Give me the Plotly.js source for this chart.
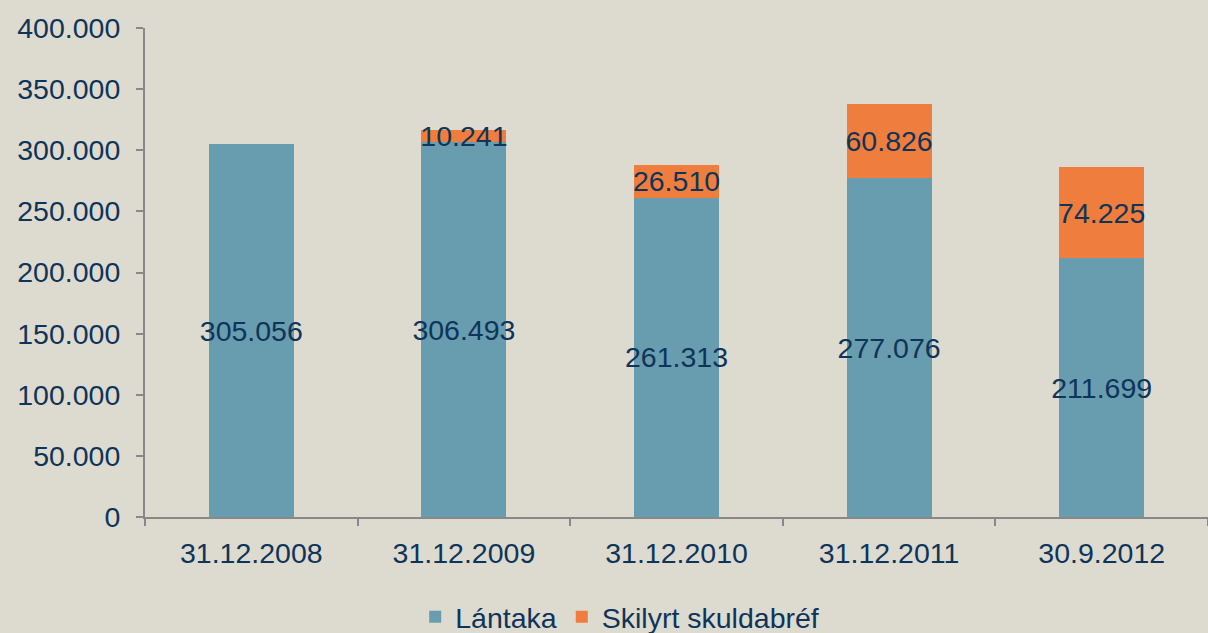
<!DOCTYPE html>
<html>
<head>
<meta charset="utf-8">
<script src="https://cdn.plot.ly/plotly-3.0.1.min.js"></script>
<style>html,body{margin:0;padding:0;background:#DDDAD0;}#chart{width:1208px;height:633px;}</style>
</head>
<body>
<div id="chart"></div>
<script>
const categories = ["31.12.2008", "31.12.2009", "31.12.2010", "31.12.2011", "30.9.2012"];
const lantaka = [305056, 306493, 261313, 277076, 211699];
const skilyrt = [null, 10241, 26510, 60826, 74225];
const seriesNames = ["Lántaka", "Skilyrt skuldabréf"];
const yTicks = [0, 50000, 100000, 150000, 200000, 250000, 300000, 350000, 400000];

const textColor = "#0E3559";
const fontFam = "Liberation Sans, Arial, sans-serif";
const fs = 28.5;

const common = {
  type: "bar",
  x: categories,
  width: 0.4,
  textposition: "inside",
  insidetextanchor: "middle",
  textangle: 0,
  constraintext: "none",
  texttemplate: "%{y:,d}",
  insidetextfont: {color: textColor, size: fs, family: fontFam},
  hoverinfo: "skip"
};

const data = [
  Object.assign({}, common, {y: lantaka, name: seriesNames[0], marker: {color: "#689CAF"}}),
  Object.assign({}, common, {y: skilyrt, name: seriesNames[1], marker: {color: "#EF7E3E"}})
];

const layout = {
  width: 1208, height: 633,
  barmode: "stack",
  separators: ",.",
  paper_bgcolor: "#DDDAD0",
  plot_bgcolor: "#DDDAD0",
  margin: {l: 145, r: 0, t: 28, b: 116, autoexpand: false},
  font: {family: fontFam, color: textColor, size: fs},
  showlegend: true,
  legend: {
    orientation: "h", traceorder: "normal",
    xref: "container", yref: "container",
    x: 0.513, xanchor: "center", y: 0.025, yanchor: "middle",
    font: {size: fs, color: textColor}, bgcolor: "rgba(0,0,0,0)", itemwidth: 30
  },
  xaxis: {
    range: [-0.5, 4.5],
    automargin: false,
    showline: true, linecolor: "#888888", linewidth: 2,
    ticks: "outside", tickson: "boundaries", ticklen: 7, tickwidth: 2, tickcolor: "#888888",
    ticklabelstandoff: 10,
    tickfont: {size: fs, color: textColor},
    showgrid: false, zeroline: false
  },
  yaxis: {
    range: [0, 400000],
    automargin: false,
    tickvals: yTicks,
    tickformat: ",d",
    showline: true, linecolor: "#888888", linewidth: 2,
    ticks: "outside", ticklen: 7, tickwidth: 2, tickcolor: "#888888",
    ticklabelstandoff: 10,
    tickfont: {size: fs, color: textColor},
    showgrid: false, zeroline: false
  }
};

Plotly.newPlot("chart", data, layout, {displayModeBar: false, staticPlot: true});
</script>
</body>
</html>
